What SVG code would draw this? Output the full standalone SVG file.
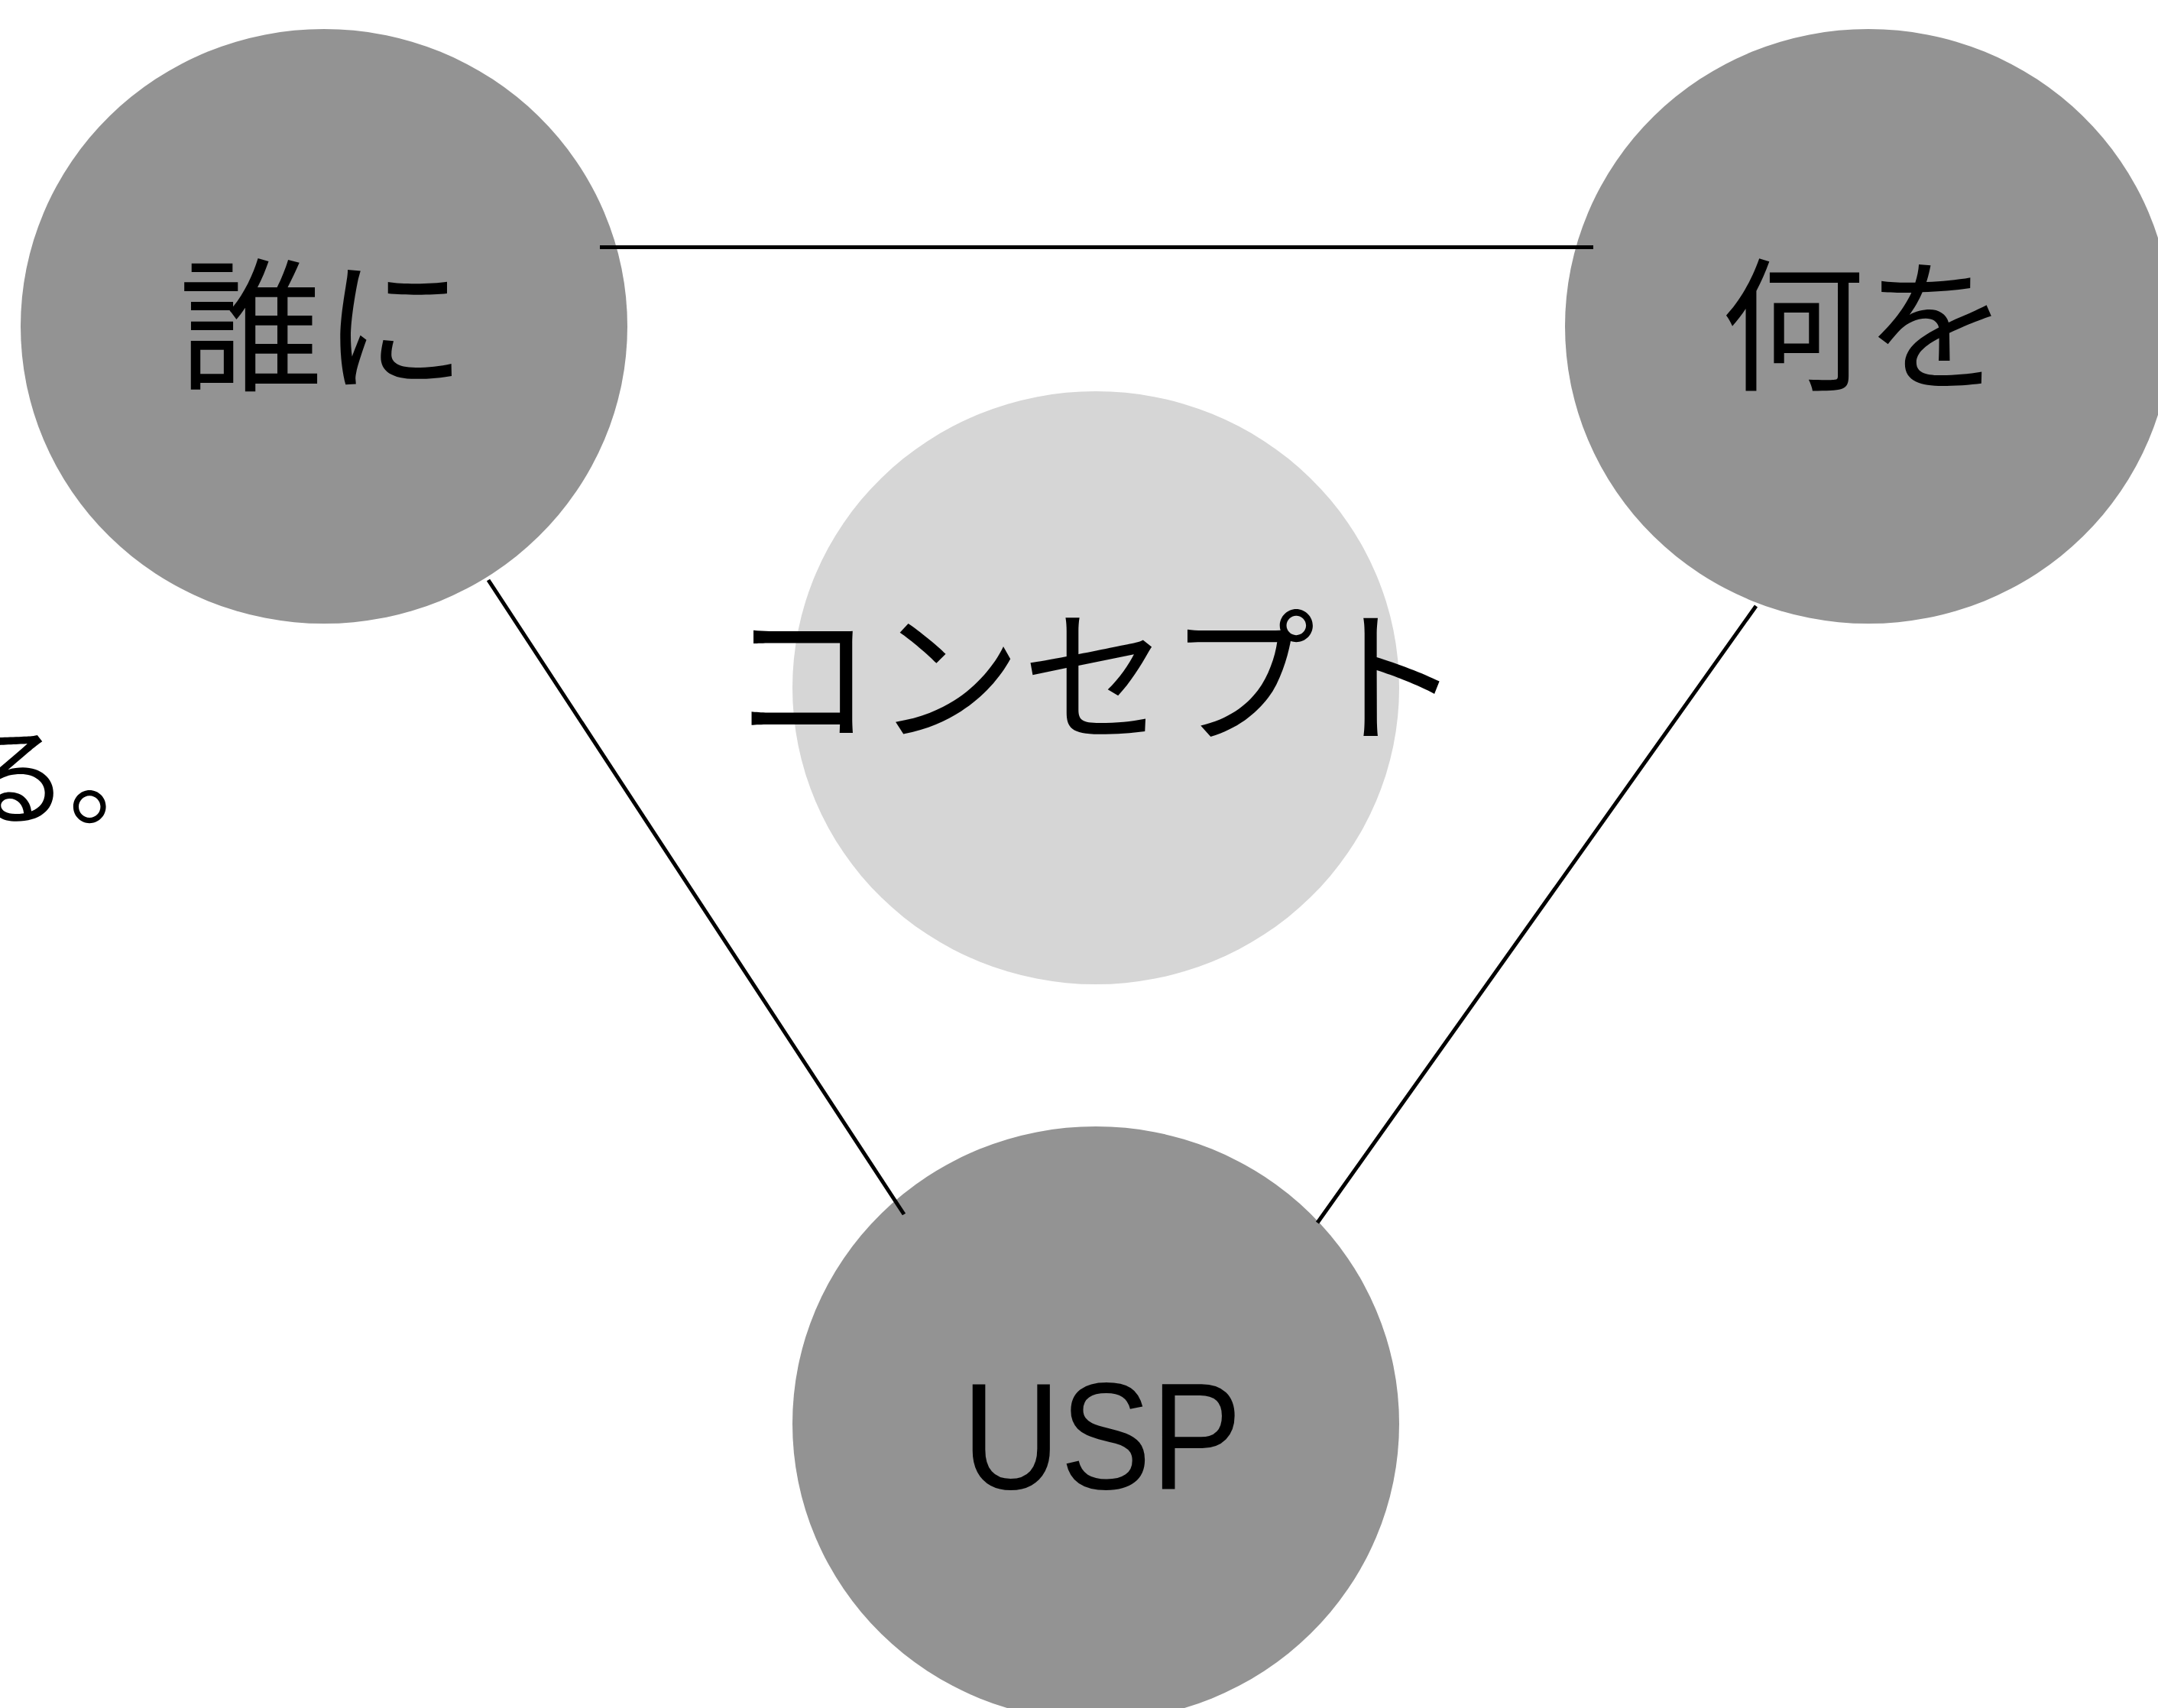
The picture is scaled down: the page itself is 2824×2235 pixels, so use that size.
<svg xmlns="http://www.w3.org/2000/svg" width="2824" height="2235" viewBox="0 0 2824 2235">
<style>
.node{fill:#939393}
.concept{fill:#d6d6d6}
.lbl{font-family:"Noto Sans CJK JP","Noto Sans",sans-serif;font-size:188px;fill:#000;text-anchor:middle}
.lat{font-family:"Liberation Sans",Arial,sans-serif;font-size:198px;fill:#000;text-anchor:middle}
.edge{stroke:#000;stroke-width:5;fill:none}
</style>
<rect x="0" y="0" width="2824" height="2235" fill="#fff"/>
<text x="-50" y="1068" style="font-family:'Noto Sans CJK JP','Noto Sans',sans-serif;font-size:140px;fill:#000">る。</text>
<g id="node-who">
<ellipse class="node" cx="424" cy="427" rx="397" ry="389"/>
<text class="lbl" x="422" y="496">誰に</text>
</g>
<g id="node-what">
<ellipse class="node" cx="2445" cy="427" rx="397" ry="389"/>
<text class="lbl" x="2440" y="496">何を</text>
</g>
<g id="node-concept">
<ellipse class="concept" cx="1434" cy="900" rx="397" ry="388"/>
<text class="lbl" x="1433" y="957" style="font-size:192px">コンセプト</text>
</g>
<g id="node-usp">
<ellipse class="node" cx="1434" cy="1863" rx="397" ry="389"/>
<text class="lat" x="1442" y="1948" textLength="366" lengthAdjust="spacingAndGlyphs">USP</text>
</g>
<g id="connectors">
<line class="edge" x1="785" y1="323.5" x2="2085" y2="323.5"/>
<line class="edge" x1="639" y1="759" x2="1183" y2="1589"/>
<line class="edge" x1="2298" y1="793" x2="1724" y2="1600"/>
</g>
</svg>
